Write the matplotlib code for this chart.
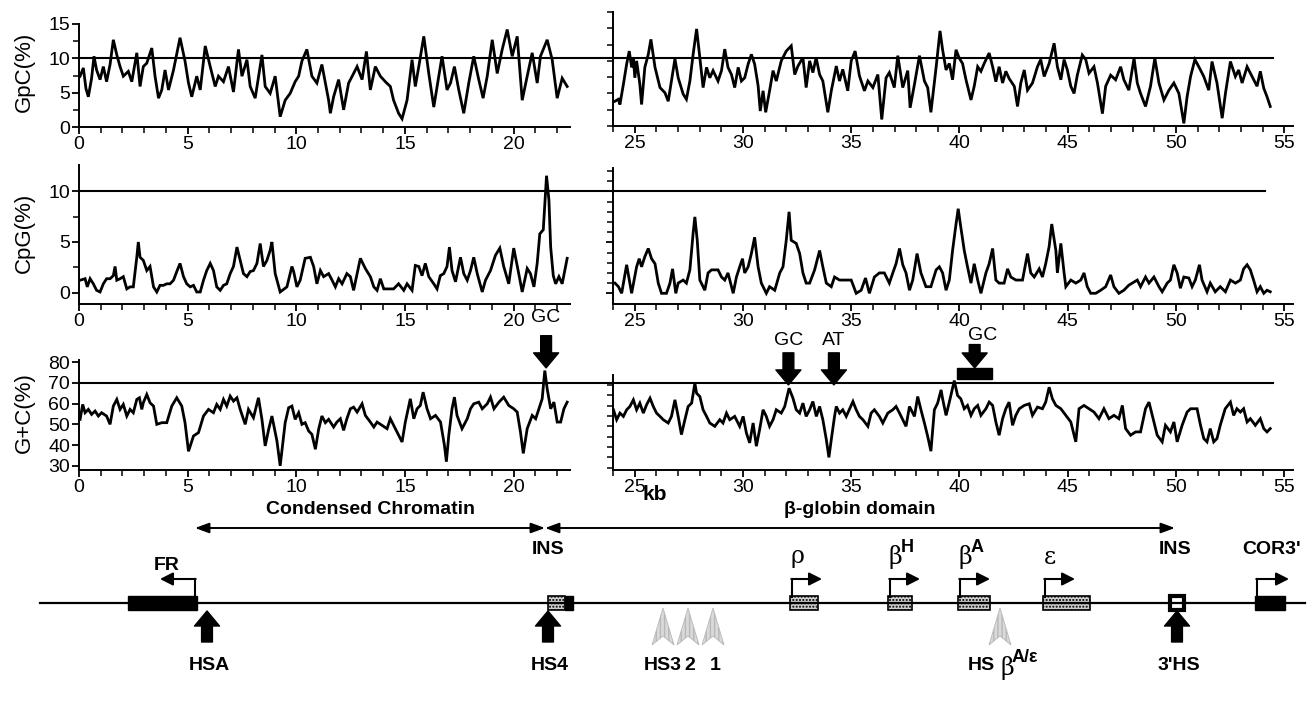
import matplotlib
matplotlib.use("Agg")
import matplotlib.pyplot as plt
from matplotlib.patches import Rectangle, Polygon
from matplotlib.ticker import MultipleLocator
from matplotlib.transforms import blended_transform_factory

# ---------------- data (kb, value) ----------------
gpc_left = [(0.05, 7.4), (0.2, 8.6), (0.32, 5.6), (0.43, 4.4), (0.58, 7.1), (0.69, 10.3), (0.81, 8.3),
            (0.97, 6.9), (1.12, 8.8), (1.27, 6.6), (1.43, 9.1), (1.58, 12.7), (1.74, 10.5), (1.89, 8.8),
            (2.04, 7.4), (2.27, 8.1), (2.43, 6.6), (2.66, 10.8), (2.81, 5.9), (2.96, 8.8), (3.12, 9.3),
            (3.35, 11.5), (3.5, 7.4), (3.66, 4.2), (3.81, 5.4), (3.96, 8.3), (4.12, 5.4), (4.35, 8.3),
            (4.65, 13.0), (4.88, 9.6), (5.04, 6.4), (5.19, 4.4), (5.42, 7.4), (5.58, 5.4), (5.81, 11.8),
            (6.04, 8.8), (6.27, 5.9), (6.42, 7.4), (6.65, 6.6), (6.88, 8.8), (7.11, 5.1), (7.34, 11.3),
            (7.5, 7.4), (7.73, 9.8), (7.88, 5.9), (8.11, 4.2), (8.42, 10.5), (8.57, 5.9), (8.8, 4.9),
            (9.03, 7.4), (9.26, 1.5), (9.49, 3.9), (9.72, 4.9), (9.95, 6.6), (10.11, 7.4), (10.26, 9.6),
            (10.49, 11.3), (10.72, 7.4), (10.95, 6.4), (11.18, 9.1), (11.49, 3.9), (11.57, 2.0),
            (11.72, 4.4), (11.95, 6.9), (12.18, 2.5), (12.41, 6.4), (12.64, 7.8), (12.80, 8.8),
            (13.03, 6.9), (13.23, 11.0), (13.41, 5.4), (13.64, 8.8), (13.87, 7.4), (14.10, 6.6),
            (14.33, 5.9), (14.48, 3.9), (14.71, 2.0), (14.87, 1.2), (15.10, 3.9), (15.33, 9.8),
            (15.48, 5.9), (15.64, 8.8), (15.87, 13.2), (16.10, 7.8), (16.33, 2.9), (16.56, 7.4),
            (16.71, 10.3), (16.94, 5.4), (17.10, 6.4), (17.28, 8.8), (17.48, 5.4), (17.71, 2.0),
            (17.94, 6.4), (18.17, 10.3), (18.40, 6.9), (18.60, 4.2), (18.79, 7.4), (19.02, 12.7),
            (19.25, 7.8), (19.48, 11.3), (19.71, 14.2), (19.94, 10.3), (20.17, 13.2), (20.40, 3.9),
            (20.63, 7.4), (20.86, 10.8), (21.09, 6.4), (21.24, 10.3), (21.55, 12.7), (21.78, 9.8),
            (22.01, 4.2), (22.24, 7.1), (22.47, 5.9)]

gpc_right = [(24.09, 3.8), (24.25, 4.1), (24.32, 3.3), (24.48, 6.4), (24.63, 9.5), (24.75, 11.5),
             (24.86, 9.0), (24.94, 10.3), (25.01, 7.4), (25.09, 10.0), (25.24, 6.4), (25.32, 3.3),
             (25.47, 9.0), (25.63, 11.0), (25.75, 13.3), (25.94, 9.0), (26.17, 5.9), (26.40, 5.1),
             (26.55, 3.8), (26.70, 6.9), (26.86, 10.3), (27.01, 7.4), (27.24, 4.9), (27.39, 4.1),
             (27.55, 6.9), (27.70, 11.0), (27.86, 14.9), (28.01, 10.5), (28.16, 5.9), (28.32, 9.0),
             (28.47, 7.4), (28.62, 8.5), (28.85, 6.9), (29.01, 8.5), (29.16, 11.8), (29.31, 9.0),
             (29.47, 7.9), (29.62, 5.9), (29.78, 9.0), (29.93, 6.9), (30.08, 7.4), (30.24, 9.5),
             (30.39, 11.0), (30.54, 9.5), (30.70, 6.2), (30.80, 2.3), (30.93, 5.4), (31.05, 2.1),
             (31.23, 5.4), (31.39, 8.5), (31.54, 6.9), (31.77, 10.0), (32.00, 11.5), (32.23, 12.3),
             (32.39, 7.9), (32.54, 9.2), (32.77, 10.5), (32.92, 5.9), (33.08, 10.0), (33.23, 8.2),
             (33.38, 10.5), (33.54, 7.9), (33.69, 6.9), (33.92, 2.1), (34.08, 5.4), (34.31, 9.2),
             (34.46, 6.9), (34.61, 8.7), (34.84, 5.4), (35.00, 10.0), (35.18, 11.5), (35.38, 7.7),
             (35.61, 5.4), (35.77, 6.9), (36.00, 5.9), (36.23, 7.9), (36.41, 1.0), (36.61, 7.4),
             (36.76, 8.2), (36.99, 5.9), (37.15, 10.8), (37.38, 5.9), (37.61, 8.5), (37.72, 2.8),
             (37.92, 6.4), (38.15, 10.8), (38.38, 6.9), (38.53, 5.9), (38.68, 2.1), (38.92, 9.0),
             (39.10, 14.6), (39.22, 11.7), (39.38, 8.6), (39.53, 9.6), (39.68, 7.1), (39.84, 11.7),
             (39.99, 10.4), (40.14, 9.6), (40.30, 7.1), (40.53, 4.0), (40.68, 6.1), (40.84, 9.1),
             (40.99, 8.4), (41.14, 9.6), (41.37, 11.2), (41.53, 9.1), (41.68, 6.8), (41.83, 9.1),
             (41.99, 6.6), (42.14, 8.4), (42.29, 7.3), (42.53, 6.1), (42.68, 3.0), (42.83, 6.6),
             (42.99, 8.6), (43.14, 5.5), (43.37, 6.6), (43.60, 9.1), (43.75, 10.2), (43.91, 7.6),
             (44.14, 9.6), (44.37, 12.7), (44.52, 9.1), (44.68, 7.1), (44.83, 10.2), (44.98, 8.6),
             (45.14, 6.1), (45.29, 5.0), (45.44, 7.8), (45.67, 10.9), (45.83, 10.2), (45.98, 8.1),
             (46.21, 9.1), (46.37, 6.6), (46.60, 1.9), (46.75, 6.1), (46.98, 7.8), (47.21, 7.1),
             (47.44, 9.1), (47.59, 7.1), (47.82, 5.5), (48.06, 10.4), (48.21, 6.6), (48.36, 5.0),
             (48.59, 3.0), (48.82, 6.1), (49.02, 10.4), (49.21, 6.6), (49.44, 4.0), (49.67, 5.5),
             (49.90, 6.6), (50.13, 5.0), (50.36, 0.4), (50.51, 4.5), (50.67, 7.6), (50.87, 10.2),
             (51.05, 9.1), (51.28, 7.6), (51.51, 5.5), (51.66, 9.9), (51.89, 6.6), (52.13, 1.2),
             (52.28, 5.0), (52.51, 9.9), (52.74, 7.6), (52.89, 8.6), (53.05, 6.6), (53.28, 9.1),
             (53.51, 7.6), (53.74, 6.1), (53.89, 8.4), (54.05, 5.8), (54.20, 4.5), (54.35, 3.0)]

cpg_left = [(0.05, 1.25), (0.28, 1.4), (0.38, 0.6), (0.51, 1.4), (0.66, 0.9), (0.81, 0.26), (0.97, 0.1),
            (1.12, 0.9), (1.27, 1.4), (1.43, 1.4), (1.58, 1.7), (1.66, 2.6), (1.74, 1.25), (1.89, 1.4),
            (2.04, 1.6), (2.20, 0.4), (2.35, 0.6), (2.50, 0.6), (2.66, 3.5), (2.73, 5.0), (2.81, 3.5),
            (2.96, 3.2), (3.12, 2.2), (3.27, 2.6), (3.43, 0.6), (3.58, 0.1), (3.73, 0.75), (3.89, 0.75),
            (4.04, 0.9), (4.19, 0.9), (4.35, 1.25), (4.50, 2.1), (4.65, 2.9), (4.81, 1.6), (4.96, 0.9),
            (5.12, 0.6), (5.27, 0.75), (5.42, 0.1), (5.58, 0.1), (5.73, 1.25), (5.88, 2.2), (6.04, 2.9),
            (6.19, 2.2), (6.34, 0.6), (6.50, 0.26), (6.65, 0.75), (6.80, 0.9), (6.96, 1.9), (7.11, 2.6),
            (7.27, 4.5), (7.42, 3.2), (7.57, 1.9), (7.73, 1.6), (7.88, 2.1), (8.03, 2.2), (8.19, 2.9),
            (8.34, 4.85), (8.49, 2.6), (8.65, 3.2), (8.80, 4.2), (8.88, 5.0), (9.03, 1.9), (9.26, 0.1),
            (9.57, 0.6), (9.80, 2.6), (9.88, 2.1), (10.03, 0.6), (10.18, 1.25), (10.41, 3.4),
            (10.65, 3.5), (10.80, 2.6), (10.95, 0.9), (11.11, 2.2), (11.26, 1.6), (11.49, 1.9),
            (11.65, 1.25), (11.80, 0.6), (11.95, 1.4), (12.11, 0.9), (12.33, 1.9), (12.49, 1.6),
            (12.64, 0.26), (12.80, 1.9), (12.95, 3.4), (13.18, 2.4), (13.41, 1.6), (13.57, 0.6),
            (13.72, 0.26), (13.87, 1.4), (14.03, 0.4), (14.18, 0.4), (14.48, 0.4), (14.71, 0.9),
            (14.95, 0.26), (15.10, 0.9), (15.33, 0.26), (15.48, 2.7), (15.64, 2.6), (15.79, 1.7),
            (15.94, 2.9), (16.10, 1.6), (16.33, 0.9), (16.48, 0.4), (16.63, 1.7), (16.79, 1.9),
            (16.94, 2.6), (17.05, 4.5), (17.17, 2.2), (17.33, 1.1), (17.56, 3.5), (17.71, 1.9),
            (17.87, 1.25), (18.02, 2.2), (18.17, 3.5), (18.33, 1.9), (18.56, 0.1), (18.71, 1.25),
            (18.94, 2.2), (19.17, 3.7), (19.37, 4.4), (19.55, 2.6), (19.78, 0.9), (20.01, 4.4),
            (20.24, 1.9), (20.40, 0.1), (20.63, 2.4), (20.78, 1.9), (20.94, 0.6), (21.09, 2.9),
            (21.21, 5.8), (21.37, 6.2), (21.48, 10.1), (21.52, 11.5), (21.63, 9.1), (21.71, 4.5),
            (21.83, 1.7), (21.94, 0.9), (22.09, 1.6), (22.24, 0.9), (22.47, 3.4)]

cpg_right = [(24.09, 1.0), (24.25, 0.65), (24.40, 0.0), (24.63, 2.8), (24.86, 0.0), (25.09, 2.6),
             (25.21, 3.4), (25.32, 2.6), (25.47, 3.6), (25.63, 4.4), (25.78, 3.4), (25.94, 2.9),
             (26.09, 1.0), (26.24, 0.0), (26.47, 0.0), (26.63, 1.0), (26.75, 2.4), (26.90, 0.0),
             (27.01, 1.0), (27.24, 1.3), (27.39, 1.0), (27.55, 2.3), (27.70, 5.9), (27.78, 7.5),
             (27.89, 5.2), (28.01, 1.3), (28.24, 0.3), (28.39, 2.0), (28.55, 2.3), (28.85, 2.3),
             (29.01, 1.6), (29.16, 1.3), (29.31, 2.0), (29.55, 0.0), (29.70, 1.6), (29.85, 2.6),
             (29.98, 3.4), (30.08, 2.0), (30.24, 2.6), (30.39, 3.9), (30.54, 5.5), (30.70, 2.6),
             (30.85, 1.0), (31.08, 0.0), (31.23, 0.65), (31.47, 0.3), (31.70, 2.0), (31.85, 2.6),
             (32.00, 5.2), (32.13, 8.0), (32.23, 5.2), (32.46, 4.9), (32.62, 3.9), (32.77, 2.0),
             (32.92, 1.0), (33.08, 1.0), (33.31, 2.3), (33.54, 4.2), (33.69, 2.6), (33.85, 1.0),
             (34.08, 0.65), (34.23, 1.6), (34.46, 1.3), (34.69, 1.3), (35.00, 1.3), (35.23, 0.0),
             (35.46, 0.3), (35.66, 1.5), (35.84, 0.0), (36.07, 1.6), (36.30, 2.0), (36.53, 2.0),
             (36.76, 1.0), (36.92, 2.0), (37.07, 2.9), (37.23, 4.4), (37.38, 2.8), (37.53, 2.0),
             (37.69, 0.3), (37.84, 1.3), (38.04, 3.9), (38.22, 2.0), (38.45, 0.65), (38.68, 0.65),
             (38.92, 2.3), (39.07, 2.6), (39.22, 2.0), (39.38, 0.3), (39.53, 1.3), (39.68, 4.2),
             (39.84, 6.8), (39.94, 8.3), (40.06, 6.5), (40.22, 4.2), (40.37, 2.6), (40.53, 1.0),
             (40.68, 2.9), (40.84, 1.3), (40.99, 0.0), (41.22, 2.0), (41.37, 2.9), (41.53, 4.4),
             (41.68, 1.3), (41.83, 1.0), (42.06, 1.0), (42.22, 2.4), (42.37, 1.6), (42.60, 1.3),
             (42.91, 1.3), (43.14, 3.9), (43.29, 2.0), (43.45, 1.6), (43.68, 2.4), (43.83, 1.6),
             (43.98, 2.9), (44.14, 4.6), (44.26, 6.8), (44.45, 4.2), (44.52, 2.0), (44.68, 4.9),
             (44.83, 2.0), (44.91, 0.65), (45.14, 1.3), (45.37, 1.0), (45.60, 1.3), (45.75, 2.0),
             (45.90, 0.65), (46.06, 0.0), (46.29, 0.0), (46.52, 0.3), (46.75, 0.65), (46.98, 1.8),
             (47.13, 0.65), (47.36, 0.0), (47.59, 0.3), (47.82, 0.8), (47.98, 1.0), (48.21, 1.3),
             (48.36, 0.65), (48.59, 1.6), (48.75, 1.0), (48.98, 1.6), (49.21, 0.65), (49.36, 0.15),
             (49.59, 1.0), (49.74, 1.3), (49.90, 2.8), (50.05, 2.0), (50.20, 0.5), (50.36, 1.6),
             (50.59, 1.5), (50.74, 0.65), (50.89, 1.3), (51.08, 2.8), (51.20, 1.3), (51.43, 0.15),
             (51.58, 1.0), (51.81, 0.15), (52.04, 0.65), (52.28, 0.15), (52.51, 1.3), (52.74, 1.0),
             (52.97, 1.3), (53.12, 2.4), (53.28, 2.8), (53.43, 2.3), (53.58, 1.3), (53.74, 0.15),
             (53.89, 0.65), (54.05, 0.0), (54.20, 0.3), (54.35, 0.15)]

gc_left = [(0.05, 52.4), (0.17, 59.6), (0.28, 55.6), (0.43, 57.2), (0.58, 54.8), (0.74, 56.4), (0.89, 54.0),
           (1.04, 55.6), (1.27, 54.0), (1.43, 50.0), (1.58, 58.8), (1.74, 62.0), (1.89, 57.2), (2.04, 59.6),
           (2.20, 54.0), (2.35, 57.2), (2.50, 55.6), (2.66, 62.0), (2.78, 62.8), (2.89, 57.2), (2.96, 60.4),
           (3.12, 64.4), (3.27, 60.4), (3.43, 58.8), (3.58, 50.0), (3.81, 50.8), (4.04, 50.8), (4.27, 58.8),
           (4.50, 62.8), (4.73, 58.8), (4.88, 50.8), (5.04, 37.0), (5.27, 44.4), (5.50, 46.0), (5.73, 54.0),
           (5.96, 57.2), (6.19, 55.6), (6.34, 59.6), (6.50, 57.2), (6.65, 62.0), (6.80, 58.8), (6.96, 63.6),
           (7.11, 61.2), (7.27, 62.8), (7.42, 57.2), (7.65, 50.0), (7.80, 57.2), (8.03, 53.2), (8.26, 62.8),
           (8.42, 52.4), (8.57, 39.6), (8.73, 47.6), (8.88, 54.0), (9.11, 42.0), (9.26, 30.0), (9.49, 50.8),
           (9.65, 58.0), (9.80, 58.8), (9.95, 52.4), (10.11, 55.6), (10.26, 50.0), (10.41, 50.8),
           (10.57, 46.8), (10.72, 45.2), (10.88, 38.0), (11.03, 47.6), (11.18, 54.0), (11.34, 50.8),
           (11.49, 52.4), (11.72, 48.7), (11.87, 51.1), (12.03, 52.7), (12.18, 47.1), (12.33, 52.7),
           (12.49, 57.5), (12.64, 58.3), (12.80, 55.9), (13.03, 59.9), (13.18, 54.3), (13.41, 51.1),
           (13.57, 48.7), (13.72, 51.1), (13.95, 49.5), (14.18, 47.9), (14.33, 52.7), (14.56, 47.9),
           (14.71, 44.7), (14.87, 41.5), (15.02, 51.1), (15.25, 62.3), (15.41, 52.7), (15.56, 57.5),
           (15.71, 59.1), (15.84, 65.5), (16.02, 57.5), (16.18, 52.7), (16.41, 54.3), (16.64, 51.1),
           (16.82, 39.9), (16.91, 32.0), (17.02, 44.7), (17.17, 57.5), (17.28, 63.1), (17.40, 54.3),
           (17.63, 47.9), (17.87, 52.7), (18.02, 57.5), (18.17, 59.9), (18.40, 60.7), (18.56, 57.5),
           (18.79, 59.9), (18.94, 63.1), (19.10, 57.5), (19.33, 60.7), (19.55, 63.1), (19.78, 59.1),
           (20.01, 57.5), (20.17, 55.9), (20.32, 46.3), (20.45, 36.0), (20.63, 47.9), (20.86, 54.3),
           (21.02, 52.7), (21.17, 57.5), (21.32, 62.3), (21.44, 75.9), (21.55, 67.1), (21.71, 57.5),
           (21.86, 60.7), (22.01, 51.1), (22.17, 51.1), (22.32, 57.5), (22.47, 60.7)]

gc_right = [(24.02, 58.0), (24.17, 53.2), (24.32, 56.4), (24.48, 54.8), (24.63, 58.0), (24.78, 59.6),
            (24.94, 62.8), (25.09, 58.0), (25.24, 61.2), (25.40, 56.4), (25.55, 60.4), (25.71, 63.6),
            (25.86, 59.6), (26.01, 56.4), (26.17, 54.8), (26.32, 53.2), (26.55, 51.6), (26.70, 54.8),
            (26.86, 62.8), (27.01, 54.8), (27.16, 46.0), (27.32, 53.2), (27.47, 59.6), (27.63, 61.2),
            (27.78, 70.8), (27.86, 66.0), (28.01, 64.4), (28.16, 58.0), (28.32, 54.8), (28.47, 51.6),
            (28.70, 50.0), (28.93, 53.2), (29.08, 51.6), (29.24, 56.4), (29.39, 53.2), (29.62, 54.8),
            (29.85, 50.0), (30.01, 54.8), (30.16, 46.8), (30.31, 42.0), (30.47, 51.6), (30.62, 40.4),
            (30.77, 48.4), (30.93, 58.0), (31.08, 54.8), (31.23, 50.0), (31.39, 53.2), (31.54, 58.0),
            (31.77, 56.4), (31.93, 59.6), (32.13, 68.4), (32.31, 63.6), (32.46, 58.0), (32.62, 56.4),
            (32.77, 61.2), (32.92, 54.8), (33.08, 58.0), (33.23, 62.0), (33.39, 54.8), (33.54, 59.6),
            (33.69, 53.2), (33.85, 43.6), (33.97, 35.0), (34.08, 43.6), (34.23, 54.8), (34.31, 59.6),
            (34.46, 56.4), (34.61, 58.0), (34.77, 54.8), (35.08, 62.0), (35.23, 58.0), (35.38, 54.8),
            (35.54, 53.2), (35.77, 50.0), (35.92, 56.4), (36.07, 58.0), (36.30, 54.8), (36.46, 51.6),
            (36.69, 56.4), (36.92, 58.0), (37.07, 59.6), (37.23, 56.4), (37.38, 53.2), (37.53, 50.0),
            (37.69, 59.6), (37.92, 54.8), (38.07, 64.4), (38.22, 58.0), (38.38, 51.6), (38.53, 45.2),
            (38.68, 38.0), (38.84, 58.0), (38.99, 61.2), (39.15, 67.6), (39.22, 63.3), (39.38, 55.3),
            (39.53, 61.7), (39.76, 72.1), (39.91, 64.9), (40.06, 63.3), (40.22, 58.5), (40.37, 60.1),
            (40.53, 55.3), (40.68, 58.5), (40.84, 60.1), (40.99, 55.3), (41.22, 58.5), (41.37, 61.7),
            (41.53, 60.1), (41.68, 52.1), (41.83, 45.7), (41.99, 53.7), (42.14, 58.5), (42.29, 61.7),
            (42.45, 50.5), (42.60, 55.3), (42.76, 58.5), (42.99, 60.1), (43.22, 60.9), (43.37, 55.3),
            (43.60, 59.3), (43.83, 58.5), (43.98, 61.7), (44.14, 68.9), (44.29, 63.3), (44.45, 60.1),
            (44.68, 58.5), (44.91, 55.3), (45.14, 52.1), (45.37, 42.5), (45.52, 58.5), (45.75, 60.1),
            (45.98, 58.5), (46.21, 56.9), (46.44, 53.7), (46.67, 58.5), (46.90, 53.7), (47.13, 55.3),
            (47.36, 53.7), (47.52, 60.1), (47.67, 48.9), (47.90, 45.7), (48.13, 47.3), (48.36, 47.3),
            (48.59, 58.5), (48.75, 61.7), (48.90, 55.3), (49.13, 45.7), (49.36, 42.5), (49.51, 50.5),
            (49.74, 47.3), (49.90, 52.1), (50.05, 42.5), (50.28, 50.5), (50.51, 56.9), (50.67, 58.5),
            (50.82, 58.5), (50.97, 58.5), (51.13, 50.5), (51.28, 44.1), (51.43, 42.5), (51.58, 48.9),
            (51.74, 42.5), (51.89, 44.1), (52.04, 50.5), (52.27, 58.5), (52.51, 61.7), (52.66, 55.3),
            (52.81, 58.5), (52.97, 56.9), (53.12, 58.5), (53.28, 52.1), (53.43, 53.7), (53.66, 50.5),
            (53.89, 53.7), (54.05, 48.9), (54.20, 47.3), (54.35, 48.9)]

# threshold lines
gpc_ref, cpg_ref, gc_ref = 10, 10, 70

# arrows on the G+C profile: label, kb, panel, arrow tip, arrow tail, label x, label height (G+C %)
gc_marks = [("GC", 21.5, "L", 77.2, 92.7, 21.5, 101.4),
            ("GC", 32.1, "R", 70.0, 85.5, 32.1, 91.7),
            ("AT", 34.2, "R", 70.0, 85.5, 34.2, 91.7),
            ("GC", 40.7, "R", 78.2, 89.5, 41.05, 94.0)]
gc_bar = (39.9, 41.5, 72.9, 78.2)

# ---------------- gene map (schematic units = pixels of the map) ----------------
domain_names = ["Condensed Chromatin", "\u03b2-globin domain"]
domain_from = [195, 545]
domain_to = [545, 1175]

gene_names = ["\u03c1", "\u03b2", "\u03b2", "\u03b5"]
gene_sup = ["", "H", "A", ""]
gene_start = [790, 888, 958, 1043]
gene_end = [818, 912, 990, 1090]

hs_black = ["HSA", "HS4", "3'HS"]
hs_black_x = [207, 548, 1177]
hs_grey_x = [663, 688, 713, 1000]

W, H = 1308, 705
NARROW = ["Liberation Sans Narrow", "Liberation Sans", "DejaVu Sans"]
SANS = ["Liberation Sans", "DejaVu Sans"]
plt.rcParams["font.family"] = NARROW

fig = plt.figure(figsize=(W / 100, H / 100), dpi=100)


def px_box(left, top, right, bottom):
    return [left / W, 1 - bottom / H, (right - left) / W, (bottom - top) / H]


def style(ax, xlim, ylim, ymajor, yminor, show_labels):
    ax.set_xlim(*xlim)
    ax.set_ylim(*ylim)
    for s in ["top", "right"]:
        ax.spines[s].set_visible(False)
    for s in ["left", "bottom"]:
        ax.spines[s].set_linewidth(1.4)
    ax.xaxis.set_major_locator(MultipleLocator(5))
    ax.xaxis.set_minor_locator(MultipleLocator(1))
    ax.set_yticks(ymajor)
    ax.set_yticks(yminor, minor=True)
    ax.tick_params(which="major", direction="out", length=5, width=1.3, labelsize=14, pad=1.5)
    ax.tick_params(which="minor", direction="out", length=4, width=1.1)
    ax.tick_params(axis="y", labelleft=show_labels)
    ax.patch.set_alpha(0)


def trace(ax, pts):
    xs = [p[0] for p in pts]
    ys = [p[1] for p in pts]
    ax.plot(xs, ys, color="black", lw=2.0, solid_joinstyle="miter")


rows = [
    # left box, right box, left ylim, right ylim, ref, ref end px, data, ticks, y label, label y
    ((79, 24, 570, 127), (613, 12, 1293, 126), (0, 15), (0, 17.5), gpc_ref, 1273,
     gpc_left, gpc_right,
     ([0, 5, 10, 15], [2.5, 7.5, 12.5]), ([], [0, 2.5, 5, 7.5, 10, 12.5, 15, 17.5]),
     "GpC(%)", 72),
    ((79, 165, 570, 304), (613, 168, 1293, 304), (-1.08, 12.55), (-1.05, 12.3), cpg_ref, 1265,
     cpg_left, cpg_right,
     ([0, 5, 10], [2.5, 7.5]), ([0, 5, 10], [1, 2, 3, 4, 6, 7, 8, 9, 11, 12]),
     "CpG(%)", 233),
    ((79, 360, 570, 470), (613, 375, 1293, 470), (28.0, 81), (28.9, 74.8), gc_ref, 1273,
     gc_left, gc_right,
     ([30, 40, 50, 60, 70, 80], []), ([], [30, 35, 40, 45, 50, 55, 60, 65, 70]),
     "G+C(%)", 413),
]

gc_axes = {}
for lbox, rbox, lylim, rylim, ref, ref_end, ldata, rdata, lticks, rticks, ylab, ylab_y in rows:
    axl = fig.add_axes(px_box(*lbox))
    axr = fig.add_axes(px_box(*rbox))
    style(axl, (0, 22.6), lylim, lticks[0], lticks[1], True)
    style(axr, (24, 55.4), rylim, rticks[0], rticks[1], False)
    trace(axl, ldata)
    trace(axr, rdata)
    tr = blended_transform_factory(fig.transFigure, axl.transData)
    axl.plot([lbox[0] / W, ref_end / W], [ref, ref], transform=tr, color="black",
             lw=1.5, clip_on=False)
    fig.text(24 / W, 1 - ylab_y / H, ylab, rotation=90, ha="center", va="center",
             fontsize=16, family=SANS)
    gc_axes = {"L": axl, "R": axr}

# G+C arrows
for label, kb, side, tip, tail, lx, ly in gc_marks:
    ax = gc_axes[side]
    ax.annotate("", xy=(kb, tip), xytext=(kb, tail), annotation_clip=False,
                arrowprops=dict(arrowstyle="simple,head_length=0.9,head_width=1.5,tail_width=0.65",
                                fc="black", ec="black", mutation_scale=12, shrinkA=0, shrinkB=0))
    ax.text(lx, ly, label, ha="center", va="center", fontsize=14, clip_on=False)
gc_axes["R"].add_patch(Rectangle((gc_bar[0], gc_bar[2]), gc_bar[1] - gc_bar[0], gc_bar[3] - gc_bar[2],
                                 color="black", clip_on=False))

fig.text(655 / W, 1 - 494 / H, "kb", ha="center", va="center", fontsize=15,
         fontweight="bold", family=SANS)

# ---------------- map ----------------
am = fig.add_axes([0, 0, 1, 215 / H])
am.set_xlim(0, W)
am.set_ylim(705, 490)
am.axis("off")

am.plot([40, 1305], [603, 603], color="black", lw=1.6)
for name, a, b in zip(domain_names, domain_from, domain_to):
    am.annotate("", xy=(a, 528), xytext=(b, 528),
                arrowprops=dict(arrowstyle="<|-|>,head_length=0.6,head_width=0.22",
                                color="black", lw=1.4, mutation_scale=14, shrinkA=0, shrinkB=0))
    am.text((a + b) / 2, 509, name, ha="center", va="center", fontsize=14,
            fontweight="bold", family=SANS)


def tss(x, direction, length=30):
    am.plot([x, x], [597, 579], color="black", lw=1.5)
    am.annotate("", xy=(x + direction * length, 579), xytext=(x - 0.7 * direction, 579),
                arrowprops=dict(arrowstyle="-|>,head_length=0.55,head_width=0.28",
                                color="black", lw=1.5, mutation_scale=14, shrinkA=0, shrinkB=0))


# FR (black) and COR3'
am.add_patch(Rectangle((128, 596), 69, 14, fc="black", ec="black"))
tss(195, -1, 35)
am.text(167, 566, "FR", ha="center", va="center", fontsize=14, fontweight="bold", family=SANS)
am.add_patch(Rectangle((1255, 596), 30, 14, fc="black", ec="black"))
tss(1257, 1, 32)
am.text(1272, 549, "COR3'", ha="center", va="center", fontsize=14, fontweight="bold", family=SANS)

# insulators
am.add_patch(Rectangle((548, 596), 17, 14, fc="#cfcfcf", ec="black", lw=1.2, hatch="....."))
am.add_patch(Rectangle((565, 596), 8, 14, fc="black", ec="black"))
am.text(548, 549, "INS", ha="center", va="center", fontsize=14, fontweight="bold", family=SANS)
am.add_patch(Rectangle((1170, 596), 14, 14, fc="white", ec="black", lw=3))
am.text(1175, 549, "INS", ha="center", va="center", fontsize=14, fontweight="bold", family=SANS)

# globin genes
for name, sup, a, b in zip(gene_names, gene_sup, gene_start, gene_end):
    am.add_patch(Rectangle((a, 596), b - a, 14, fc="#cfcfcf", ec="black", lw=1.2, hatch="....."))
    tss(a + 2, 1, 30)
    am.text(a + 7, 557, name, ha="center", va="center", fontsize=17, family=["DejaVu Serif"])
    if sup:
        am.text(a + 13, 547, sup, ha="left", va="center", fontsize=13, fontweight="bold", family=SANS)

# hypersensitive sites
for name, x in zip(hs_black, hs_black_x):
    am.annotate("", xy=(x, 611), xytext=(x, 642),
                arrowprops=dict(arrowstyle="simple,head_length=0.9,head_width=1.5,tail_width=0.65",
                                fc="black", ec="black", mutation_scale=12, shrinkA=0, shrinkB=0))
    am.text(x + 2, 666, name, ha="center", va="center", fontsize=14, fontweight="bold", family=SANS)

for x in hs_grey_x:
    am.add_patch(Polygon([(x - 11, 645), (x, 608), (x + 11, 645), (x, 636)], closed=True,
                         fc="#dadada", ec="#b8b8b8", lw=0.6, hatch="||||"))

am.text(663, 666, "HS3", ha="center", va="center", fontsize=14, fontweight="bold", family=SANS)
am.text(690, 666, "2", ha="center", va="center", fontsize=14, fontweight="bold", family=SANS)
am.text(715, 666, "1", ha="center", va="center", fontsize=14, fontweight="bold", family=SANS)
am.text(995, 666, "HS", ha="right", va="center", fontsize=14, fontweight="bold", family=SANS)
am.text(1000, 668, "\u03b2", ha="left", va="center", fontsize=17, family=["DejaVu Serif"])
am.text(1012, 658, "A/\u03b5", ha="left", va="center", fontsize=13, fontweight="bold", family=SANS)

fig.savefig("out.png", dpi=100)
